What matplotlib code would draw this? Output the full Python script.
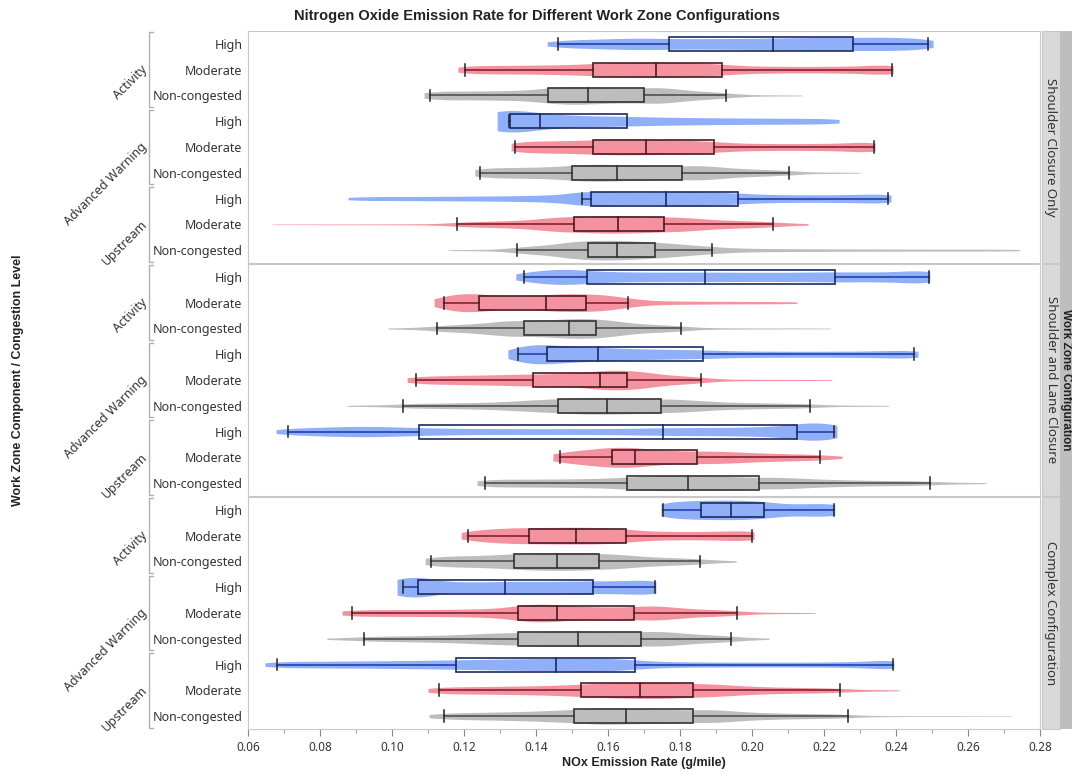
import numpy as np
import matplotlib.pyplot as plt
from matplotlib.patches import Rectangle
from matplotlib.transforms import blended_transform_factory

plt.rcParams['font.family'] = ['Noto Sans', 'DejaVu Sans']
BOLD = ['Liberation Sans', 'DejaVu Sans']

# rows: Activity, Advanced Warning, Upstream  x  High, Moderate, Non-congested
panels = ['Shoulder Closure Only', 'Shoulder and Lane Closure', 'Complex Configuration']
groups = ['Activity', 'Advanced Warning', 'Upstream']
levels = ['High', 'Moderate', 'Non-congested']

# NOx emission rate (g/mile), 27 rows = 3 panels x 9 rows
viol_min = [.1431, .1183, .1089, .1292, .1331, .1230, .0878, .0667, .1156,
            .1344, .1117, .0989, .1322, .1042, .0875, .0678, .1447, .1236,
            .1747, .1192, .1092, .1014, .0861, .0819, .0647, .1100, .1103]
whisk_lo = [.1461, .1203, .1106, .1325, .1342, .1244, .1528, .1181, .1347,
            .1367, .1144, .1125, .1350, .1067, .1031, .0711, .1467, .1258,
            .1753, .1211, .1108, .1031, .0889, .0922, .0681, .1131, .1144]
q1 = [.1769, .1558, .1433, .1328, .1558, .1500, .1553, .1506, .1544,
      .1542, .1242, .1367, .1431, .1392, .1461, .1075, .1611, .1653,
      .1858, .1381, .1339, .1072, .1350, .1350, .1178, .1525, .1506]
median = [.2058, .1733, .1544, .1411, .1706, .1625, .1761, .1628, .1625,
          .1869, .1428, .1492, .1572, .1578, .1597, .1753, .1675, .1822,
          .1942, .1511, .1458, .1314, .1458, .1517, .1456, .1689, .1650]
q3 = [.2281, .1917, .1700, .1653, .1894, .1806, .1961, .1756, .1731,
      .2231, .1539, .1567, .1864, .1653, .1747, .2125, .1847, .2019,
      .2033, .1650, .1575, .1558, .1672, .1692, .1675, .1836, .1836]
whisk_hi = [.2489, .2389, .1928, np.nan, .2339, .2103, .2378, .2058, .1889,
            .2492, .1656, .1803, .2450, .1858, .2161, .2228, .2189, .2494,
            .2228, .2000, .1856, .1731, .1958, .1942, .2392, .2244, .2267]
viol_max = [.2503, .2392, .2139, .2242, .2342, .2300, .2386, .2156, .2744,
            .2494, .2125, .2217, .2461, .2222, .2380, .2236, .2250, .2650,
            .2230, .2006, .1956, .1733, .2175, .2047, .2394, .2408, .2722]

fill_col = {'High': '#8FB0F8', 'Moderate': '#F4939F', 'Non-congested': '#BDBDBD'}
line_col = {'High': '#2B48B0', 'Moderate': '#8E2A38', 'Non-congested': '#5A5A5A'}
edge_col = {'High': '#1C2A60', 'Moderate': '#4A1A22', 'Non-congested': '#333333'}


def pchip(xk, yk, x):
    # monotone cubic, end slopes chosen so the tails thin out
    xk, yk = np.asarray(xk, float), np.asarray(yk, float)
    h = np.diff(xk)
    d = np.diff(yk) / h
    m = np.zeros_like(yk)
    for k in range(1, len(xk) - 1):
        if d[k - 1] * d[k] > 0:
            w1 = 2 * h[k] + h[k - 1]
            w2 = h[k] + 2 * h[k - 1]
            m[k] = (w1 + w2) / (w1 / d[k - 1] + w2 / d[k])
    m[0] = min(max(2 * d[0] - m[1], d[0]), 3 * d[0])
    m[-1] = min(max(2 * d[-1] - m[-2], d[-1]), 3 * d[-1])
    idx = np.clip(np.searchsorted(xk, x) - 1, 0, len(h) - 1)
    t = (x - xk[idx]) / h[idx]
    h00 = 2 * t**3 - 3 * t**2 + 1
    h10 = t**3 - 2 * t**2 + t
    h01 = -2 * t**3 + 3 * t**2
    h11 = t**3 - t**2
    return h00 * yk[idx] + h10 * h[idx] * m[idx] + h01 * yk[idx + 1] + h11 * h[idx] * m[idx + 1]


def tail_mass(gap, span):
    # little mass beyond a whisker unless the whisker hugs the box
    r = gap / span if span > 0 else 0
    return min(max(0.25 * r ** 6, 0.01), 0.22)


def violin(i):
    xs = [viol_min[i], whisk_lo[i], q1[i], median[i], q3[i]]
    ps = [0, tail_mass(whisk_lo[i] - viol_min[i], q1[i] - viol_min[i]), .25, .5, .75]
    if not np.isnan(whisk_hi[i]):
        xs.append(whisk_hi[i])
        ps.append(1 - tail_mass(viol_max[i] - whisk_hi[i], viol_max[i] - q3[i]))
    xs.append(viol_max[i])
    ps.append(1)
    samples = pchip(ps, xs, np.linspace(0, 1, 1501))
    grid = np.linspace(viol_min[i], viol_max[i], 500)
    bw = 0.004
    dens = np.exp(-0.5 * ((grid[:, None] - samples[None, :]) / bw) ** 2).sum(1)
    dens /= len(samples) * bw * np.sqrt(2 * np.pi)
    hmax = 0.46
    half = hmax * np.tanh(0.05 * dens ** 0.7 / hmax)
    return grid, half


fig = plt.figure(figsize=(10.72, 7.75), dpi=100)
W, H = 1072, 775
tops = [31, 264, 497]
ph = 232
for p in range(3):
    ax = fig.add_axes([248 / W, 1 - (tops[p] + ph) / H, 792 / W, ph / H])
    for r in range(9):
        i = p * 9 + r
        lev = levels[r % 3]
        grid, half = violin(i)
        ax.fill_between(grid, r - half, r + half, color=fill_col[lev], lw=0, zorder=1)
        bh = 0.27
        ax.plot([whisk_lo[i], q1[i]], [r, r], color=line_col[lev], lw=1.3, zorder=2)
        ax.plot([whisk_lo[i]] * 2, [r - .23, r + .23], color='#222222', lw=1.1, zorder=3)
        if not np.isnan(whisk_hi[i]):
            ax.plot([q3[i], whisk_hi[i]], [r, r], color=line_col[lev], lw=1.3, zorder=2)
            ax.plot([whisk_hi[i]] * 2, [r - .23, r + .23], color='#222222', lw=1.1, zorder=3)
        ax.add_patch(Rectangle((q1[i], r - bh), q3[i] - q1[i], 2 * bh, fill=False,
                               edgecolor=edge_col[lev], lw=1.2, zorder=4))
        ax.plot([median[i]] * 2, [r - bh, r + bh], color=edge_col[lev], lw=1.2, zorder=4)

    ax.set_xlim(0.06, 0.28)
    ax.set_ylim(8.5, -0.5)
    ax.set_yticks(range(9))
    ax.set_yticklabels(levels * 3, fontsize=9, color='#333333')
    ax.tick_params(axis='y', length=0, pad=4)
    for s in ax.spines.values():
        s.set_color('#C8C8C8')
    if p < 2:
        ax.set_xticks([])
    else:
        ax.set_xticks(np.arange(0.06, 0.281, 0.02))
        ax.set_xticks(np.arange(0.06, 0.281, 0.01), minor=True)
        ax.set_xticklabels([f'{v:.2f}' for v in np.arange(0.06, 0.281, 0.02)],
                           fontsize=8.5, color='#333333')
        ax.tick_params(axis='x', which='major', length=5, color='#888888')
        ax.tick_params(axis='x', which='minor', length=3, color='#888888')

    # group brackets and rotated group labels
    trans = blended_transform_factory(fig.transFigure, ax.transData)
    bx = 149 / W
    for g in range(3):
        y0, y1 = g * 3 - 0.45, g * 3 + 2.45
        ax.plot([bx + 4 / W, bx, bx, bx + 4 / W], [y0, y0, y1, y1], color='#B0B0B0',
                lw=1, transform=trans, clip_on=False)
        ax.text(145 / W, g * 3 + 0.9, groups[g], rotation=45, ha='right', va='center',
                rotation_mode='anchor', fontsize=9, color='#333333', transform=trans)

    # panel strip
    fig.patches.append(Rectangle((1042 / W, 1 - (tops[p] + ph) / H), 18 / W, ph / H,
                                 transform=fig.transFigure, facecolor='#D9D9D9',
                                 edgecolor='#C8C8C8', lw=0.8))
    fig.text(1051 / W, 1 - (tops[p] + ph / 2) / H, panels[p], rotation=270,
             ha='center', va='center', fontsize=9.5, color='#333333')

fig.patches.append(Rectangle((1060 / W, 1 - (tops[2] + ph) / H), 14 / W,
                             (tops[2] + ph - tops[0]) / H, transform=fig.transFigure,
                             facecolor='#BEBEBE', edgecolor='none'))
fig.text(1066 / W, 1 - (tops[0] + tops[2] + ph) / 2 / H, 'Work Zone Configuration',
         rotation=270, ha='center', va='center', fontsize=8.5, fontweight='bold',
         family=BOLD, color='#222222')

fig.text(537 / W, 1 - 16 / H, 'Nitrogen Oxide Emission Rate for Different Work Zone Configurations',
         ha='center', va='center', fontsize=10.5, fontweight='bold', family=BOLD,
         color='#222222')
fig.text(644 / W, 1 - 763 / H, 'NOx Emission Rate (g/mile)', ha='center', va='center',
         fontsize=9, fontweight='bold', family=BOLD, color='#222222')
fig.text(18 / W, 1 - 380 / H, 'Work Zone Component / Congestion Level', rotation=90,
         ha='center', va='center', fontsize=9, fontweight='bold', family=BOLD,
         color='#222222')

fig.savefig('out.png', dpi=100)
